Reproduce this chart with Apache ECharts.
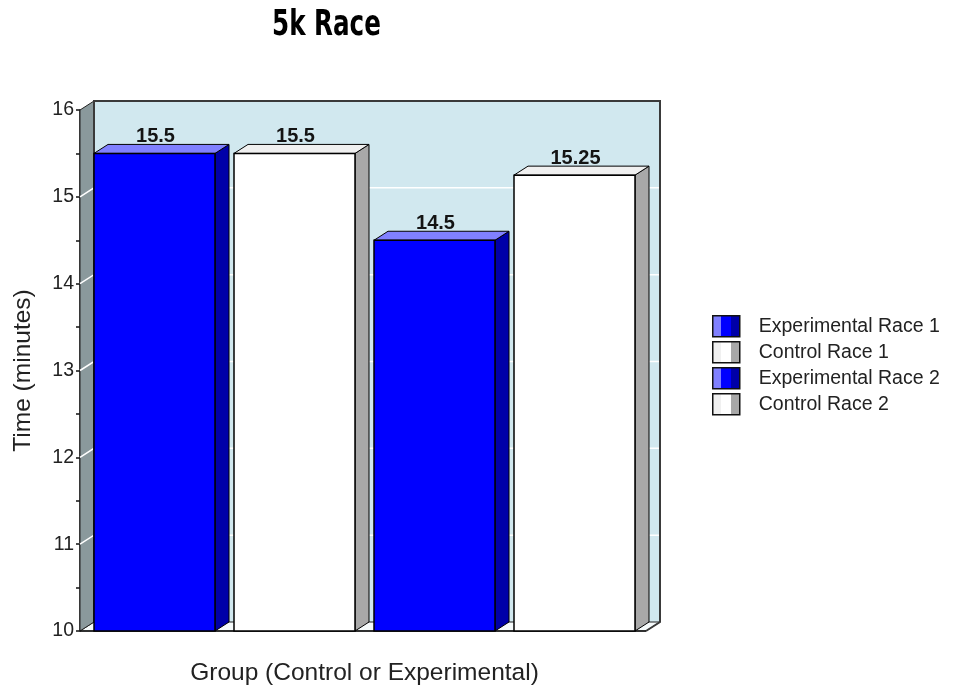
<!DOCTYPE html>
<html>
<head>
<meta charset="utf-8">
<script src="https://cdn.jsdelivr.net/npm/echarts@6/dist/echarts.min.js"></script>
<style>
  html, body { margin: 0; padding: 0; background: #fff; }
  #chart { width: 955px; height: 685px; }
</style>
</head>
<body>
<div id="chart"></div>
<script>
// 5k race times, one bar per group/race
const seriesNames = ['Experimental Race 1', 'Control Race 1', 'Experimental Race 2', 'Control Race 2'];
const times = [15.5, 15.5, 14.5, 15.25];
const yMin = 10;
const yMax = 16;
const yStep = 1;

const FONT = "'Liberation Sans', Arial, sans-serif";
const TITLE_FONT = "'DejaVu Sans Condensed', 'DejaVu Sans', sans-serif";
const DX = 14;   // depth offset of the 3D box, x
const DY = 9;    // depth offset of the 3D box, y
const BAR_W = 121;

// face colours per series: [front, top, side]
const palette = [
  ['#0000ff', '#8080ff', '#0000a8'],
  ['#ffffff', '#f0f0f0', '#a8a8a8'],
  ['#0000ff', '#8080ff', '#0000a8'],
  ['#ffffff', '#f0f0f0', '#a8a8a8']
];

function stripes(c) {
  return {
    type: 'linear', x: 0, y: 0, x2: 1, y2: 0,
    colorStops: [
      { offset: 0, color: c[1] }, { offset: 0.33, color: c[1] },
      { offset: 0.33, color: c[0] }, { offset: 0.66, color: c[0] },
      { offset: 0.66, color: c[2] }, { offset: 1, color: c[2] }
    ]
  };
}

// back wall, left wall, floor and grid lines of the 3D frame
function renderFrame(params, api) {
  const cs = params.coordSys;
  const L = cs.x - 4.5;
  const R = cs.x + cs.width + 1.5;
  const T = api.coord([0, yMax])[1];
  const B = api.coord([0, yMin])[1];
  const children = [];
  children.push({
    type: 'rect',
    shape: { x: L + DX, y: T - DY, width: R - L, height: B - T },
    style: { fill: '#d1e8ef', stroke: null }
  });
  children.push({
    type: 'polygon',
    shape: { points: [[L, B], [L + DX, B - DY], [R + DX, B - DY], [R, B]] },
    style: { fill: '#f6fbfc', stroke: '#222', lineWidth: 1 }
  });
  children.push({
    type: 'polygon',
    shape: { points: [[L, T], [L + DX, T - DY], [L + DX, B - DY], [L, B]] },
    style: { fill: '#8a999c', stroke: '#222', lineWidth: 1 }
  });
  for (let v = yMin + yStep; v < yMax; v += yStep) {
    const y = api.coord([0, v])[1];
    children.push({
      type: 'polyline',
      shape: { points: [[L, y], [L + DX, y - DY], [R + DX, y - DY]] },
      style: { stroke: '#ffffff', lineWidth: 1.5, fill: null }
    });
  }
  children.push({
    type: 'polyline',
    shape: { points: [[L + DX, B - DY], [L + DX, T - DY], [R + DX, T - DY], [R + DX, B - DY], [R, B]] },
    style: { stroke: '#3a3a3a', lineWidth: 2, fill: null }
  });
  children.push({
    type: 'line',
    shape: { x1: L, y1: B, x2: R, y2: B },
    style: { stroke: '#111', lineWidth: 1.5 }
  });
  return { type: 'group', children: children };
}

// one 3D box per series, value printed above it
function makeBarRenderer(si) {
  const c = palette[si];
  return function (params, api) {
    const idx = api.value(0);
    const val = api.value(1);
    const topPt = api.coord([idx, val]);
    const basePt = api.coord([idx, yMin]);
    const left = topPt[0] - BAR_W / 2;
    const right = left + BAR_W;
    const top = topPt[1];
    const bottom = basePt[1];
    return {
      type: 'group',
      children: [
        {
          type: 'polygon',
          shape: { points: [[right, top], [right + DX, top - DY], [right + DX, bottom - DY], [right, bottom]] },
          style: { fill: c[2], stroke: '#000', lineWidth: 1 }
        },
        {
          type: 'polygon',
          shape: { points: [[left, top], [left + DX, top - DY], [right + DX, top - DY], [right, top]] },
          style: { fill: c[1], stroke: '#000', lineWidth: 1 }
        },
        {
          type: 'rect',
          shape: { x: left, y: top, width: BAR_W, height: bottom - top },
          style: { fill: c[0], stroke: '#000', lineWidth: 1.5 }
        },
        {
          type: 'text',
          x: topPt[0] + 1,
          y: top - DY + 2,
          style: {
            text: String(val),
            fill: '#141414',
            font: 'bold 20px ' + FONT,
            textAlign: 'center',
            textVerticalAlign: 'bottom'
          }
        }
      ]
    };
  };
}

const chart = echarts.init(document.getElementById('chart'), null, { renderer: 'canvas' });

const series = [{
  name: 'frame',
  type: 'custom',
  renderItem: renderFrame,
  data: [[0, yMin]],
  silent: true,
  z: 1
}];
seriesNames.forEach(function (name, i) {
  series.push({
    name: name,
    type: 'custom',
    renderItem: makeBarRenderer(i),
    itemStyle: { color: palette[i][0] },
    encode: { x: 0, y: 1 },
    data: [[i, times[i]]],
    z: 2
  });
});

chart.setOption({
  animation: false,
  graphic: [{
    type: 'text',
    x: 272,
    y: 26,
    scaleX: 0.76,
    style: {
      text: '5k Race',
      font: 'bold 36px ' + TITLE_FONT,
      fill: '#000',
      textAlign: 'left',
      textVerticalAlign: 'middle'
    }
  }],
  legend: {
    orient: 'vertical',
    left: 707,
    top: 310,
    icon: 'rect',
    itemWidth: 27,
    itemHeight: 21,
    itemGap: 3.5,
    selectedMode: false,
    textStyle: { fontFamily: FONT, fontSize: 19.5, color: '#222', padding: [0, 0, 0, 14] },
    data: seriesNames.map(function (n, i) {
      return { name: n, itemStyle: { color: stripes(palette[i]), borderColor: '#111', borderWidth: 1.5 } };
    })
  },
  grid: { left: 84.5, top: 110, width: 560, height: 521, outerBoundsMode: 'none' },
  xAxis: {
    type: 'category',
    data: seriesNames,
    axisLine: { show: false },
    axisTick: { show: false },
    axisLabel: { show: false },
    splitLine: { show: false },
    name: 'Group (Control or Experimental)',
    nameLocation: 'middle',
    nameGap: 30,
    nameTextStyle: { fontFamily: FONT, fontSize: 24.5, color: '#222' }
  },
  yAxis: {
    type: 'value',
    min: yMin,
    max: yMax,
    interval: yStep,
    offset: 4.5,
    axisLine: { show: true, lineStyle: { color: '#111', width: 1.5 } },
    axisTick: { show: true, length: 4, lineStyle: { color: '#111', width: 1.5 } },
    minorTick: { show: true, splitNumber: 2, length: 4, lineStyle: { color: '#111', width: 1.5 } },
    splitLine: { show: false },
    axisLabel: { fontFamily: FONT, fontSize: 19.5, color: '#222', margin: 6 },
    name: 'Time (minutes)',
    nameLocation: 'middle',
    nameGap: 44,
    nameTextStyle: { fontFamily: FONT, fontSize: 24.5, color: '#222' }
  },
  series: series
});
</script>
</body>
</html>
